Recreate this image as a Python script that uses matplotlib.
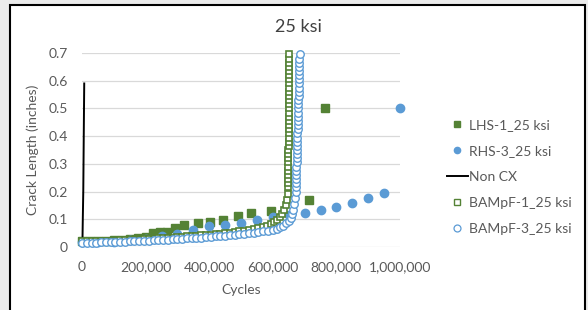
import matplotlib
matplotlib.use("Agg")
import matplotlib.pyplot as plt
import numpy as np
from matplotlib.patches import Rectangle
from matplotlib.lines import Line2D
from matplotlib.ticker import FuncFormatter

plt.rcParams['font.family'] = ['Lato', 'DejaVu Sans']

# LHS-1_25 ksi (filled green squares)
lhs1_cycles = [0, 25000, 50000, 75000, 100000, 125000, 150000, 175000, 200000,
               223000, 245000, 267000, 292000, 321000, 365000, 403000, 443000,
               491000, 531000, 594000, 714000, 765000]
lhs1_crack = [0.020, 0.021, 0.022, 0.023, 0.025, 0.027, 0.029, 0.032, 0.036,
              0.052, 0.054, 0.055, 0.069, 0.079, 0.087, 0.090, 0.097,
              0.112, 0.123, 0.130, 0.168, 0.500]

# RHS-3_25 ksi (filled blue circles)
rhs3_cycles = [0, 50000, 100000, 150000, 200000, 250000, 300000, 350000, 400000,
               450000, 500000, 550000, 600000, 650000, 700000, 750000, 800000,
               850000, 900000, 950000, 1000000]
rhs3_crack = [0.017, 0.018, 0.019, 0.024, 0.030, 0.038, 0.048, 0.060, 0.074,
              0.080, 0.087, 0.097, 0.108, 0.115, 0.123, 0.134, 0.144,
              0.159, 0.177, 0.195, 0.500]

# Non CX (black line)
noncx_cycles = [0, 1500, 2500, 4000, 5500, 7000]
noncx_crack = [0.020, 0.025, 0.100, 0.200, 0.400, 0.590]

# BAMpF-1_25 ksi (open green squares)
bampf1_cycles = [0, 15000, 30000, 45000, 60000, 75000, 90000, 105000, 120000, 135000,
                 150000, 165000, 180000, 195000, 210000, 225000, 240000, 255000, 270000,
                 285000, 300000, 315000, 330000, 345000, 360000, 375000, 390000, 405000,
                 420000, 435000, 450000, 465000, 480000, 495000, 510000, 525000, 540000,
                 555000, 570000, 583000, 595000, 605000, 614000, 622000, 629000, 635000,
                 640000, 644000, 647000,
                 647800, 648000, 648200, 648400, 648500, 648700, 648800, 649000, 649100,
                 649200, 649400, 649500, 649600, 649800, 649900, 650000, 650200, 650300,
                 650400, 650500, 650600, 650800, 650900, 651000, 651100, 651200, 651400,
                 651500, 651600, 651700, 651800, 651900, 652000]
bampf1_crack = [0.020, 0.020, 0.021, 0.021, 0.022, 0.022, 0.023, 0.023, 0.024, 0.025,
                0.026, 0.026, 0.027, 0.028, 0.029, 0.030, 0.031, 0.032, 0.033,
                0.034, 0.035, 0.036, 0.038, 0.039, 0.040, 0.042, 0.043, 0.045,
                0.046, 0.048, 0.050, 0.052, 0.054, 0.056, 0.058, 0.061, 0.064,
                0.067, 0.071, 0.076, 0.082, 0.089, 0.097, 0.107, 0.119, 0.133,
                0.150, 0.170, 0.193,
                0.215, 0.230, 0.245, 0.260, 0.275, 0.290, 0.305, 0.320, 0.335,
                0.350, 0.365, 0.380, 0.395, 0.410, 0.425, 0.440, 0.455, 0.470,
                0.485, 0.500, 0.515, 0.530, 0.545, 0.560, 0.575, 0.590, 0.605,
                0.620, 0.635, 0.650, 0.665, 0.680, 0.695]

# BAMpF-3_25 ksi (open blue circles)
bampf3_cycles = [0, 15000, 30000, 45000, 60000, 75000, 90000, 105000, 120000, 135000,
                 150000, 165000, 180000, 195000, 210000, 225000, 240000, 255000, 270000,
                 285000, 300000, 315000, 330000, 345000, 360000, 375000, 390000, 405000,
                 420000, 435000, 450000, 465000, 480000, 495000, 510000, 525000, 540000,
                 555000, 570000, 585000, 600000,
                 612000, 623000, 633000, 642000, 650000, 656000, 661000, 665000, 668000,
                 670000,
                 671500, 672000, 672500, 673000, 673400, 673800, 674200, 674600, 675000,
                 675400, 675800, 676200, 676600, 677000, 677400, 677800, 678200, 678600,
                 679000, 679400, 679800, 680200, 680600, 681000, 681300, 681600, 681900,
                 682200, 682500, 682800, 683100, 683400, 683700, 684000]
bampf3_crack = [0.015, 0.015, 0.016, 0.016, 0.017, 0.017, 0.018, 0.018, 0.019, 0.019,
                0.020, 0.021, 0.021, 0.022, 0.023, 0.024, 0.025, 0.026, 0.027,
                0.028, 0.029, 0.030, 0.031, 0.032, 0.033, 0.034, 0.036, 0.037,
                0.038, 0.040, 0.041, 0.043, 0.044, 0.046, 0.048, 0.050, 0.052,
                0.054, 0.056, 0.059, 0.062,
                0.066, 0.071, 0.077, 0.085, 0.095, 0.106, 0.119, 0.135, 0.155,
                0.178,
                0.200, 0.215, 0.230, 0.245, 0.260, 0.275, 0.290, 0.305, 0.320,
                0.335, 0.350, 0.365, 0.380, 0.395, 0.410, 0.425, 0.440, 0.455,
                0.470, 0.485, 0.500, 0.515, 0.530, 0.545, 0.560, 0.575, 0.590,
                0.605, 0.620, 0.635, 0.650, 0.665, 0.680, 0.695]

green = '#548235'
blue = '#5b9bd5'
text_grey = '#595959'

W, H = 588, 310
fig = plt.figure(figsize=(W / 100, H / 100), dpi=100)
fig.patch.set_facecolor('#ebebeb')
fig.patches.append(Rectangle((10 / W, -0.05), 575 / W, 305 / H + 0.05,
                             transform=fig.transFigure, facecolor='white',
                             edgecolor='black', linewidth=1.5, zorder=-5))

ax = fig.add_axes([82 / W, 1 - 247 / H, 318 / W, 194 / H])
ax.set_facecolor('none')

ax.plot(lhs1_cycles, lhs1_crack, 's', color=green, ms=5.2, clip_on=False, zorder=3)
ax.plot(rhs3_cycles, rhs3_crack, 'o', color=blue, ms=6, clip_on=False, zorder=3)
ax.plot(noncx_cycles, noncx_crack, '-', color='black', lw=1.4, clip_on=False, zorder=3)
ax.plot(bampf1_cycles, bampf1_crack, 's', mfc='white', mec=green, mew=1.2, ms=4.8,
        clip_on=False, zorder=3)
ax.plot(bampf3_cycles, bampf3_crack, 'o', mfc='white', mec=blue, mew=1.0, ms=5.4,
        clip_on=False, zorder=3)

ax.set_xlim(0, 1000000)
ax.set_ylim(0, 0.7)
ax.set_xticks(np.arange(0, 1000001, 200000))
ax.set_yticks(np.arange(0, 0.71, 0.1))
ax.xaxis.set_major_formatter(FuncFormatter(lambda v, p: f"{int(round(v)):,}"))
ax.yaxis.set_major_formatter(FuncFormatter(lambda v, p: "0" if v == 0 else f"{v:.1f}"))
ax.yaxis.grid(True, color='#d9d9d9', lw=0.9)
ax.set_axisbelow(True)
for s in ax.spines.values():
    s.set_visible(False)
ax.tick_params(length=0, labelsize=10, colors=text_grey, pad=10)

fig.text(298 / W, 1 - 27 / H, '25 ksi', ha='center', va='center', fontsize=13, color='#404040')
fig.text(241 / W, 1 - 290 / H, 'Cycles', ha='center', va='center', fontsize=10, color=text_grey)
fig.text(33 / W, 1 - 150 / H, 'Crack Length (inches)', ha='center', va='center',
         rotation=90, fontsize=10, color=text_grey)

handles = [
    Line2D([], [], ls='none', marker='s', color=green, ms=4),
    Line2D([], [], ls='none', marker='o', color=blue, ms=4.5),
    Line2D([], [], ls='-', color='black', lw=1.4),
    Line2D([], [], ls='none', marker='s', mfc='white', mec=green, mew=1.0, ms=4.3),
    Line2D([], [], ls='none', marker='o', mfc='white', mec=blue, mew=0.9, ms=5),
]
labels = ['LHS-1_25 ksi', 'RHS-3_25 ksi', 'Non CX', 'BAMpF-1_25 ksi', 'BAMpF-3_25 ksi']
fig.legend(handles, labels, loc='upper left', bbox_to_anchor=(447 / W, 1 - 119 / H),
           frameon=False, fontsize=10, handlelength=1.5, handletextpad=0.1,
           labelspacing=1.0, borderpad=0, borderaxespad=0, labelcolor=text_grey)

fig.savefig('out.png', dpi=100, facecolor=fig.get_facecolor())
